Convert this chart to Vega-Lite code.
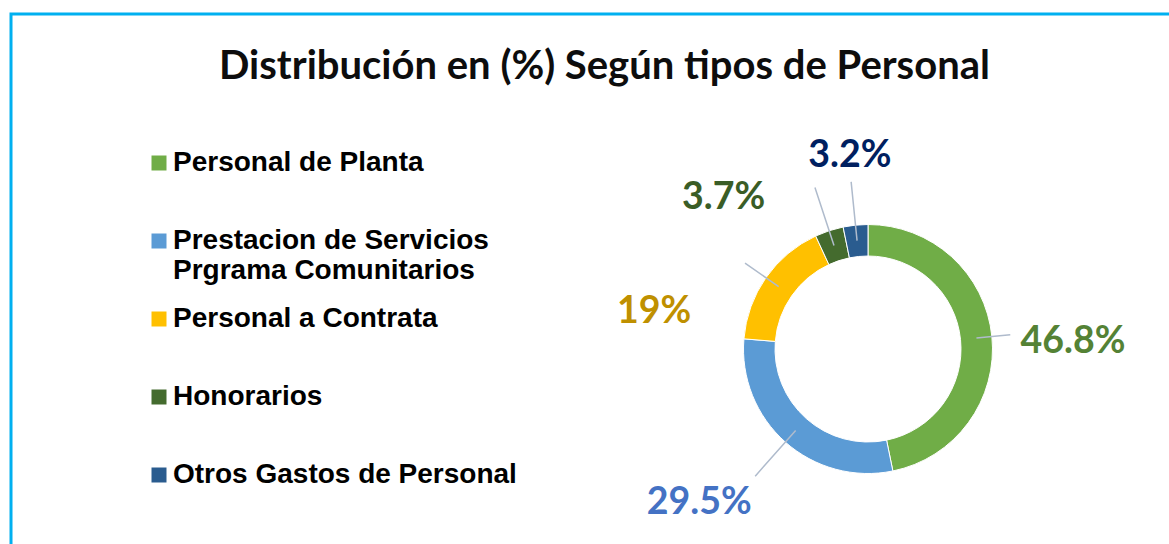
{
  "$schema": "https://vega.github.io/schema/vega-lite/v6.json",
  "autosize": {"type": "none"},
  "width": 1714,
  "height": 670,
  "padding": {"left": 11, "top": 14, "right": -556, "bottom": -140},
  "background": "#FFFFFF",
  "view": {"stroke": "#00B0F0", "strokeWidth": 3},
  "config": {
    "view": {"stroke": "#00B0F0", "strokeWidth": 3}
  },
  "title": {
    "text": "Distribución en (%) Según tipos de Personal",
    "font": "Lato",
    "fontSize": 40,
    "fontWeight": "bold",
    "color": "#0D0D0D",
    "anchor": "middle",
    "frame": "group",
    "baseline": "alphabetic",
    "dx": -263.5,
    "offset": -105
  },
  "data": {
    "values": [
      {"tipo": "Personal de Planta", "valor": 46.8, "etiqueta": "46.8%", "orden": 1},
      {"tipo": "Prestacion de Servicios Prgrama Comunitarios", "valor": 29.5, "etiqueta": "29.5%", "orden": 2},
      {"tipo": "Personal a Contrata", "valor": 16.8, "etiqueta": "19%", "orden": 3},
      {"tipo": "Honorarios", "valor": 3.7, "etiqueta": "3.7%", "orden": 4},
      {"tipo": "Otros Gastos de Personal", "valor": 3.2, "etiqueta": "3.2%", "orden": 5}
    ]
  },
  "transform": [
    {"stack": "valor", "groupby": [], "sort": [{"field": "orden", "order": "ascending"}], "as": ["v0", "v1"]},
    {"calculate": "(datum.v0 + datum.v1) / 2", "as": "medio"}
  ],
  "layer": [
    {
      "mark": {"type": "arc", "innerRadius": 93, "outerRadius": 124.5, "stroke": "#FFFFFF", "strokeWidth": 1},
      "encoding": {
        "theta": {"field": "v0", "type": "quantitative", "scale": {"domain": [0, 100]}},
        "theta2": {"field": "v1"},
        "color": {
          "field": "tipo",
          "type": "nominal",
          "sort": ["Personal de Planta", "Prestacion de Servicios Prgrama Comunitarios", "Personal a Contrata", "Honorarios", "Otros Gastos de Personal"],
          "scale": {
            "domain": ["Personal de Planta", "Prestacion de Servicios Prgrama Comunitarios", "Personal a Contrata", "Honorarios", "Otros Gastos de Personal"],
            "range": ["#70AD47", "#5B9BD5", "#FFC000", "#446B2E", "#2A5C8F"]
          },
          "legend": {
            "orient": "none",
            "legendX": 134,
            "legendY": 135,
            "title": null,
            "symbolType": "square",
            "symbolSize": 225,
            "symbolStrokeWidth": 0,
            "symbolOpacity": 1,
            "labelFont": "Liberation Sans",
            "labelFontWeight": "bold",
            "labelFontSize": 28,
            "labelColor": "#000000",
            "labelOffset": 0,
            "labelLimit": 0,
            "rowPadding": 20,
            "gridAlign": "all",
            "labelExpr": "datum.label == 'Prestacion de Servicios Prgrama Comunitarios' ? ['Prestacion de Servicios', 'Prgrama Comunitarios'] : datum.label",
            "encode": {"labels": {"update": {"lineHeight": {"value": 32}}}}
          }
        },
        "order": {"field": "orden", "type": "quantitative"}
      }
    },
    {
      "transform": [{"filter": "datum.orden == 1"}],
      "layer": [
        {
          "mark": {"type": "arc", "radius": 143, "radius2": 109, "filled": false, "stroke": "#AFBBCC", "strokeWidth": 1.5},
          "encoding": {
            "theta": {"field": "medio", "type": "quantitative", "scale": {"domain": [0, 100]}},
            "theta2": {"field": "medio"}
          }
        },
        {
          "mark": {"type": "text", "radius": 200, "font": "Lato", "fontSize": 37.5, "fontWeight": "bold", "align": "center", "baseline": "middle", "color": "#548235", "dx": 6, "dy": 13},
          "encoding": {
            "theta": {"field": "medio", "type": "quantitative", "scale": {"domain": [0, 100]}},
            "text": {"field": "etiqueta"}
          }
        }
      ]
    },
    {
      "transform": [{"filter": "datum.orden == 2"}],
      "layer": [
        {
          "mark": {"type": "arc", "radius": 170, "radius2": 109, "filled": false, "stroke": "#AFBBCC", "strokeWidth": 1.5},
          "encoding": {
            "theta": {"field": "medio", "type": "quantitative", "scale": {"domain": [0, 100]}},
            "theta2": {"field": "medio"}
          }
        },
        {
          "mark": {"type": "text", "radius": 200, "font": "Lato", "fontSize": 37.5, "fontWeight": "bold", "align": "center", "baseline": "middle", "color": "#4472C4", "dx": -36, "dy": 4},
          "encoding": {
            "theta": {"field": "medio", "type": "quantitative", "scale": {"domain": [0, 100]}},
            "text": {"field": "etiqueta"}
          }
        }
      ]
    },
    {
      "transform": [{"filter": "datum.orden == 3"}],
      "layer": [
        {
          "mark": {"type": "arc", "radius": 150, "radius2": 109, "filled": false, "stroke": "#AFBBCC", "strokeWidth": 1.5},
          "encoding": {
            "theta": {"field": "medio", "type": "quantitative", "scale": {"domain": [0, 100]}},
            "theta2": {"field": "medio"}
          }
        },
        {
          "mark": {"type": "text", "radius": 200, "font": "Lato", "fontSize": 37.5, "fontWeight": "bold", "align": "center", "baseline": "middle", "color": "#BF9000", "dx": -50, "dy": 77},
          "encoding": {
            "theta": {"field": "medio", "type": "quantitative", "scale": {"domain": [0, 100]}},
            "text": {"field": "etiqueta"}
          }
        }
      ]
    },
    {
      "transform": [{"filter": "datum.orden == 4"}],
      "layer": [
        {
          "mark": {"type": "arc", "radius": 170, "radius2": 109, "filled": false, "stroke": "#AFBBCC", "strokeWidth": 1.5},
          "encoding": {
            "theta": {"field": "medio", "type": "quantitative", "scale": {"domain": [0, 100]}},
            "theta2": {"field": "medio"}
          }
        },
        {
          "mark": {"type": "text", "radius": 200, "font": "Lato", "fontSize": 37.5, "fontWeight": "bold", "align": "center", "baseline": "middle", "color": "#3A5D26", "dx": -82, "dy": 39},
          "encoding": {
            "theta": {"field": "medio", "type": "quantitative", "scale": {"domain": [0, 100]}},
            "text": {"field": "etiqueta"}
          }
        }
      ]
    },
    {
      "transform": [{"filter": "datum.orden == 5"}],
      "layer": [
        {
          "mark": {"type": "arc", "radius": 168, "radius2": 109, "filled": false, "stroke": "#AFBBCC", "strokeWidth": 1.5},
          "encoding": {
            "theta": {"field": "medio", "type": "quantitative", "scale": {"domain": [0, 100]}},
            "theta2": {"field": "medio"}
          }
        },
        {
          "mark": {"type": "text", "radius": 200, "font": "Lato", "fontSize": 37.5, "fontWeight": "bold", "align": "center", "baseline": "middle", "color": "#002060", "dx": 2, "dy": 6},
          "encoding": {
            "theta": {"field": "medio", "type": "quantitative", "scale": {"domain": [0, 100]}},
            "text": {"field": "etiqueta"}
          }
        }
      ]
    }
  ]
}
